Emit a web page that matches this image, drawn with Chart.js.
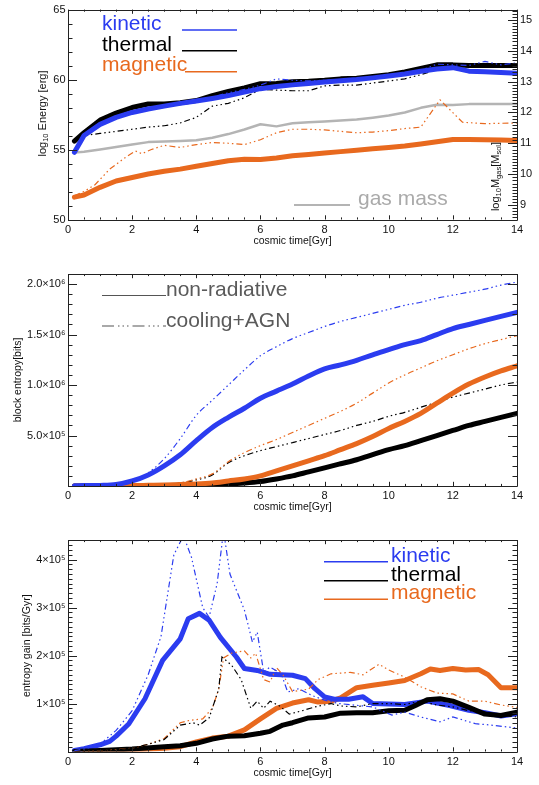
<!DOCTYPE html>
<html>
<head>
<meta charset="utf-8">
<script src="https://cdn.jsdelivr.net/npm/chart.js@4.4.1/dist/chart.umd.min.js"></script>
<style>
  html, body { margin: 0; padding: 0; background: #fff; }
  .panel { position: absolute; left: 0; width: 539px; }
</style>
</head>
<body>
<div class="panel" style="top:0;height:255px"><canvas id="energyChart"></canvas></div>
<div class="panel" style="top:255px;height:265px"><canvas id="entropyChart"></canvas></div>
<div class="panel" style="top:520px;height:265px"><canvas id="gainChart"></canvas></div>
<script>
// --- Shared axis data ---
const timeTicks = [0, 2, 4, 6, 8, 10, 12, 14];
const timeTitle = 'cosmic time[Gyr]';
const componentLabels = ['kinetic', 'thermal', 'magnetic'];
const runLabels = ['non-radiative', 'cooling+AGN'];
const massLabel = 'gas mass';

// --- Panel 1: log10 energy [erg] and log10 gas mass [Msol] ---
const energyTime = [0.2, 0.5, 1, 1.5, 2, 2.5, 3, 3.5, 4, 4.5, 5, 5.5, 6, 6.5, 7, 7.5, 8, 8.5, 9, 9.5, 10, 10.5, 11, 11.5, 12, 12.5, 13, 13.5, 14];
const kineticNR   = [54.8, 56.0, 56.8, 57.3, 57.65, 57.9, 58.1, 58.3, 58.47, 58.65, 58.85, 59.1, 59.35, 59.5, 59.62, 59.72, 59.82, 59.92, 60.0, 60.12, 60.25, 60.4, 60.6, 60.75, 60.85, 60.6, 60.55, 60.5, 60.45];
const kineticCool = [55.0, 55.9, 56.8, 57.3, 57.6, 57.9, 58.1, 58.3, 58.45, 58.75, 59.05, 59.3, 59.6, 60.05, 59.95, 59.9, 59.95, 60.0, 60.05, 60.1, 60.25, 60.45, 60.65, 61.1, 61.05, 61.0, 61.3, 61.05, 61.2];
const thermalNR   = [55.6, 56.2, 57.1, 57.6, 58.0, 58.25, 58.25, 58.35, 58.5, 58.85, 59.15, 59.4, 59.7, 59.72, 59.85, 59.88, 59.95, 60.05, 60.1, 60.22, 60.35, 60.55, 60.8, 61.05, 61.05, 61.0, 61.0, 61.0, 61.0];
const thermalCool = [55.6, 56.0, 56.15, 56.3, 56.45, 56.6, 56.7, 56.9, 57.3, 58.1, 58.3, 58.7, 59.3, 59.25, 59.2, 59.2, 59.55, 59.6, 59.6, 59.75, 59.9, 60.05, 60.35, 60.7, 60.85, 60.95, 61.05, 61.05, 61.1];
const magneticNR  = [51.6, 51.75, 52.3, 52.75, 53.0, 53.25, 53.45, 53.6, 53.8, 54.0, 54.2, 54.3, 54.28, 54.4, 54.55, 54.65, 54.75, 54.85, 54.95, 55.05, 55.15, 55.25, 55.4, 55.55, 55.72, 55.72, 55.7, 55.68, 55.65];
const magneticCoolTime = [0.2, 0.5, 0.85, 1.3, 1.8, 2.1, 2.3, 2.6, 3, 3.5, 4, 4.5, 5, 5.5, 6, 6.5, 7, 7.5, 8, 8.5, 9, 9.5, 10, 10.5, 11, 11.6, 12.3, 13, 14];
const magneticCool = [51.7, 52.0, 52.5, 53.6, 54.45, 54.9, 54.7, 55.0, 55.3, 55.15, 55.35, 55.5, 55.45, 55.35, 55.7, 56.2, 56.45, 56.45, 56.4, 56.3, 56.2, 56.25, 56.35, 56.5, 56.6, 58.55, 56.95, 56.85, 56.9];
const gasMass = [10.7, 10.73, 10.8, 10.88, 10.96, 11.04, 11.06, 11.08, 11.1, 11.18, 11.3, 11.45, 11.62, 11.55, 11.65, 11.68, 11.71, 11.74, 11.77, 11.83, 11.9, 12.0, 12.15, 12.25, 12.24, 12.27, 12.27, 12.27, 12.27];
const energyTicks = [50, 55, 60, 65];
const massTicks = [9, 10, 11, 12, 13, 14, 15];

// --- Panel 2: block entropy, in units of 1e6 bits ---
const entropyTime = [0.2, 0.5, 1, 1.5, 2, 2.5, 3, 3.5, 4, 4.5, 5, 5.5, 6, 6.5, 7, 7.5, 8, 8.5, 9, 9.5, 10, 10.5, 11, 11.5, 12, 12.5, 13, 13.5, 14];
const entKineticNR    = [0.003, 0.004, 0.006, 0.015, 0.05, 0.11, 0.2, 0.31, 0.45, 0.58, 0.68, 0.77, 0.87, 0.94, 1.01, 1.09, 1.16, 1.2, 1.245, 1.3, 1.35, 1.4, 1.44, 1.5, 1.56, 1.6, 1.64, 1.68, 1.72];
const entKineticCool  = [0.003, 0.004, 0.006, 0.012, 0.04, 0.13, 0.27, 0.47, 0.7, 0.85, 1.0, 1.15, 1.29, 1.38, 1.46, 1.52, 1.58, 1.63, 1.67, 1.71, 1.75, 1.79, 1.82, 1.86, 1.89, 1.92, 1.95, 1.99, 2.02];
const entMagneticNR   = [0, 0, 0.001, 0.002, 0.004, 0.007, 0.01, 0.015, 0.02, 0.03, 0.05, 0.07, 0.1, 0.15, 0.2, 0.25, 0.3, 0.36, 0.42, 0.49, 0.57, 0.64, 0.72, 0.82, 0.92, 1.01, 1.08, 1.14, 1.19];
const entMagneticCool = [0, 0, 0.001, 0.002, 0.004, 0.008, 0.015, 0.03, 0.07, 0.12, 0.24, 0.33, 0.4, 0.46, 0.53, 0.6, 0.67, 0.74, 0.82, 0.92, 1.02, 1.1, 1.17, 1.24, 1.3, 1.36, 1.41, 1.45, 1.49];
const entThermalNR    = [0, 0, 0, 0.001, 0.002, 0.003, 0.005, 0.007, 0.01, 0.015, 0.02, 0.03, 0.045, 0.07, 0.1, 0.14, 0.18, 0.22, 0.26, 0.31, 0.36, 0.4, 0.45, 0.5, 0.55, 0.6, 0.64, 0.68, 0.72];
const entThermalCool  = [0, 0, 0.001, 0.002, 0.004, 0.008, 0.015, 0.03, 0.06, 0.11, 0.23, 0.3, 0.35, 0.39, 0.43, 0.47, 0.51, 0.55, 0.6, 0.64, 0.69, 0.73, 0.78, 0.83, 0.88, 0.92, 0.96, 1.0, 1.03];
const entropyTicks = [0.5, 1.0, 1.5, 2.0];
const entropyTickLabels = ['5.0×10⁵', '1.0×10⁶', '1.5×10⁶', '2.0×10⁶'];

// --- Panel 3: entropy gain, in units of 1e5 bits/Gyr ---
const gainKineticNRTime = [0.2, 0.5, 1, 1.3, 1.5, 1.9, 2.4, 2.95, 3.5, 3.75, 4.1, 4.4, 4.75, 5.25, 5.5, 5.9, 6.3, 7, 7.4, 7.7, 8, 8.3, 8.75, 9.2, 9.5, 10, 10.5, 11.2, 11.9, 12.5, 13, 13.5, 14];
const gainKineticNR     = [0.02, 0.06, 0.14, 0.21, 0.32, 0.58, 1.1, 1.9, 2.35, 2.77, 2.88, 2.74, 2.38, 1.97, 1.73, 1.69, 1.61, 1.59, 1.52, 1.31, 1.14, 1.09, 1.09, 1.14, 1.0, 0.99, 0.98, 1.05, 0.96, 0.86, 0.81, 0.74, 0.79];
const gainKineticCoolTime = [0.2, 0.5, 1, 1.5, 2, 2.5, 2.9, 3.3, 3.6, 3.85, 4.2, 4.4, 4.65, 4.85, 5.05, 5.5, 5.75, 5.9, 6.1, 6.3, 6.65, 6.85, 7.2, 7.6, 8, 8.45, 9.5, 10.1, 10.5, 11, 11.6, 12, 12.7, 13.2, 14];
const gainKineticCool     = [0.02, 0.05, 0.15, 0.44, 0.85, 1.6, 2.4, 4.1, 4.5, 4.05, 3.0, 2.8, 3.5, 4.6, 3.7, 2.95, 2.28, 2.49, 1.66, 1.76, 1.62, 1.24, 1.31, 1.17, 1.07, 1.0, 0.93, 0.76, 0.82, 0.72, 0.62, 0.72, 0.58, 0.55, 0.49];
const gainThermalNRTime = [0.2, 1, 2, 3, 3.5, 4, 4.5, 5, 5.5, 6, 6.3, 6.7, 7, 7.5, 8, 8.5, 9, 9.5, 10, 10.5, 10.8, 11.2, 11.6, 12, 12.5, 13, 13.5, 14];
const gainThermalNR     = [0.0, 0.02, 0.05, 0.1, 0.12, 0.17, 0.26, 0.32, 0.33, 0.38, 0.42, 0.55, 0.6, 0.7, 0.72, 0.8, 0.81, 0.81, 0.85, 0.86, 0.95, 1.08, 1.1, 1.05, 0.92, 0.78, 0.75, 0.82];
const gainThermalCoolTime = [0.2, 1, 1.5, 2, 2.5, 3, 3.5, 3.9, 4.1, 4.4, 4.7, 4.8, 5.1, 5.4, 5.7, 5.9, 6.1, 6.3, 6.6, 6.9, 7.3, 7.7, 8.2, 8.5, 9, 9.5, 10, 10.5, 11, 11.5, 12, 12.5, 13, 13.5, 14];
const gainThermalCool     = [0, 0.01, 0.03, 0.07, 0.15, 0.25, 0.55, 0.6, 0.55, 0.7, 1.3, 1.97, 1.8, 1.5, 0.9, 1.05, 0.9, 1.05, 0.95, 0.78, 0.85, 0.93, 1.0, 0.95, 0.93, 1.0, 1.0, 0.98, 1.05, 0.97, 0.93, 0.85, 0.82, 0.75, 0.72];
const gainMagneticNRTime = [0.5, 1, 2, 3, 3.5, 4, 4.5, 5, 5.5, 6, 6.5, 7, 7.5, 7.8, 8.2, 8.5, 9, 9.5, 10, 10.5, 11, 11.3, 11.6, 12, 12.4, 12.8, 13.1, 13.5, 14];
const gainMagneticNR     = [0.0, 0.01, 0.03, 0.07, 0.1, 0.2, 0.28, 0.32, 0.45, 0.68, 0.9, 1.01, 1.08, 1.03, 1.05, 1.12, 1.33, 1.38, 1.43, 1.48, 1.62, 1.72, 1.69, 1.73, 1.7, 1.71, 1.6, 1.33, 1.33];
const gainMagneticCoolTime = [0.2, 1, 2, 2.5, 3, 3.5, 3.8, 4.2, 4.5, 4.7, 4.85, 5.1, 5.5, 5.7, 5.85, 6.1, 6.3, 6.5, 6.7, 7, 7.5, 7.8, 8.2, 8.8, 9.2, 9.7, 10, 10.5, 11, 11.5, 12, 12.5, 13, 13.5, 14];
const gainMagneticCool     = [0, 0.01, 0.07, 0.15, 0.27, 0.6, 0.65, 0.68, 0.9, 1.3, 1.95, 2.05, 2.1, 1.95, 2.05, 1.5, 1.45, 1.75, 1.6, 1.25, 1.3, 1.5, 1.62, 1.65, 1.6, 1.82, 1.7, 1.55, 1.35, 1.22, 1.2, 1.05, 1.05, 0.97, 0.92];
const gainTicks = [1, 2, 3, 4];
const gainTickLabels = ['1×10⁵', '2×10⁵', '3×10⁵', '4×10⁵'];

// --- Styling ---
const BLUE = '#2b3cf0';
const BLACK = '#000000';
const ORANGE = '#e8691e';
const GREY = '#b4b4b4';
const INK = '#111111';
const DASH = [6, 3, 1.5, 3, 1.5, 3, 1.5, 3];
const LEGEND_FONT = '21px "Liberation Sans", Arial, sans-serif';
const RIGHT_GAP = 22; // space between the plot frame and the page edge

Chart.defaults.font.family = '"Liberation Sans", Arial, Helvetica, sans-serif';
Chart.defaults.color = INK;

const pts = (xs, ys) => xs.map((x, i) => ({ x, y: ys[i] }));

function thick(data, color, width, axis) {
    return { data, borderColor: color, borderWidth: width, pointRadius: 0, tension: 0,
             borderJoinStyle: 'round', borderCapStyle: 'round', yAxisID: axis || 'y' };
}

function dotted(data, color, axis) {
    return { data, borderColor: color, borderWidth: 1.2, borderDash: DASH, pointRadius: 0,
             tension: 0, yAxisID: axis || 'y' };
}

// smooth curves for the cumulative entropy panel
const smooth = ds => Object.assign(ds, { cubicInterpolationMode: 'monotone' });

// --- Plugin: IDL style frame with inward ticks ---
const framePlugin = {
    id: 'frame',
    afterDatasetsDraw(chart, args, opts) {
        const { ctx, chartArea: a, scales } = chart;
        const snap = v => Math.round(v) + 0.5;
        ctx.save();
        ctx.strokeStyle = '#222';
        ctx.lineWidth = 1;
        ctx.beginPath();
        ctx.rect(snap(a.left), snap(a.top), Math.round(a.right - a.left), Math.round(a.bottom - a.top));
        (opts.marks || []).forEach(m => {
            const s = scales[m.scale];
            const n0 = Math.ceil(s.min / m.minor - 1e-6);
            const n1 = Math.floor(s.max / m.minor + 1e-6);
            for (let n = n0; n <= n1; n++) {
                const v = n * m.minor;
                const isMajor = Math.abs(v / m.major - Math.round(v / m.major)) < 1e-6;
                const len = isMajor ? m.len : m.len / 2;
                const p = snap(s.getPixelForValue(v));
                m.sides.forEach(side => {
                    if (side === 'bottom') { ctx.moveTo(p, a.bottom); ctx.lineTo(p, a.bottom - len); }
                    if (side === 'top') { ctx.moveTo(p, a.top); ctx.lineTo(p, a.top + len); }
                    if (side === 'left') { ctx.moveTo(a.left, p); ctx.lineTo(a.left + len, p); }
                    if (side === 'right') { ctx.moveTo(a.right, p); ctx.lineTo(a.right - len, p); }
                });
            }
        });
        ctx.stroke();
        ctx.restore();
    }
};

// --- Plugin: hand placed legends and titles with subscripts ---
const notesPlugin = {
    id: 'notes',
    afterDraw(chart, args, opts) {
        const ctx = chart.ctx;
        ctx.save();
        (opts.lines || []).forEach(l => {
            ctx.beginPath();
            ctx.strokeStyle = l.color;
            ctx.lineWidth = l.width || 1.5;
            ctx.setLineDash(l.dash || []);
            ctx.moveTo(l.x0, l.y);
            ctx.lineTo(l.x1, l.y);
            ctx.stroke();
        });
        ctx.setLineDash([]);
        (opts.texts || []).forEach(t => {
            ctx.font = t.font || LEGEND_FONT;
            ctx.fillStyle = t.color;
            ctx.textAlign = 'left';
            ctx.textBaseline = 'alphabetic';
            ctx.fillText(t.text, t.x, t.y);
        });
        (opts.rich || []).forEach(r => {
            ctx.save();
            ctx.translate(r.x, r.y);
            ctx.rotate(-Math.PI / 2);
            ctx.fillStyle = INK;
            ctx.textBaseline = 'middle';
            ctx.textAlign = 'left';
            const fontOf = sub => (sub ? '7.5px' : '11px') + ' "Liberation Sans", Arial, sans-serif';
            let total = 0;
            r.parts.forEach(([txt, sub]) => { ctx.font = fontOf(sub); total += ctx.measureText(txt).width; });
            let x = -total / 2;
            r.parts.forEach(([txt, sub]) => {
                ctx.font = fontOf(sub);
                ctx.fillText(txt, x, sub ? 3 : 0);
                x += ctx.measureText(txt).width;
            });
            ctx.restore();
        });
        ctx.restore();
    }
};

Chart.register(framePlugin, notesPlugin);

function timeAxis(height, titlePad) {
    return {
        type: 'linear', min: 0, max: 14,
        afterBuildTicks: s => { s.ticks = timeTicks.map(v => ({ value: v })); },
        afterFit: s => { s.height = height; },
        grid: { display: false, drawTicks: false },
        border: { display: false },
        ticks: { font: { size: 11 }, color: INK, padding: 3.4, maxRotation: 0, autoSkip: false },
        title: { display: true, text: timeTitle, font: { size: 10.5 }, color: INK, padding: { top: 0, bottom: titlePad } }
    };
}

function valueAxis(position, min, max, values, labels, width, title, titleCenter) {
    const axis = {
        type: 'linear', position, min, max,
        afterBuildTicks: s => { s.ticks = values.map(v => ({ value: v })); },
        afterFit: s => { s.width = width; },
        grid: { display: false, drawTicks: false },
        border: { display: false },
        ticks: {
            font: { size: 11 }, color: INK, padding: position === 'left' ? 2.5 : 3,
            autoSkip: false, callback: v => labels[values.indexOf(v)]
        },
        title: { display: false }
    };
    if (title) {
        axis.title = { display: true, text: title, font: { size: 10.5 }, color: INK, padding: { top: titleCenter - 6.3, bottom: 0 } };
    }
    return axis;
}

const common = {
    responsive: true,
    maintainAspectRatio: false,
    animation: false,
    events: [],
    plugins: { legend: { display: false }, tooltip: { enabled: false } }
};

// --- Panel 1 ---
new Chart(document.getElementById('energyChart'), {
    type: 'line',
    data: {
        datasets: [
            dotted(pts(energyTime, kineticCool), BLUE),
            thick(pts(energyTime, kineticNR), BLUE, 5),
            dotted(pts(energyTime, thermalCool), BLACK),
            thick(pts(energyTime, thermalNR), BLACK, 5),
            dotted(pts(magneticCoolTime, magneticCool), ORANGE),
            thick(pts(energyTime, magneticNR), ORANGE, 5),
            thick(pts(energyTime, gasMass), GREY, 2.5, 'y2')
        ]
    },
    options: {
        ...common,
        layout: { padding: { top: 7.5, right: 0, bottom: 0, left: 0 } },
        scales: {
            x: timeAxis(35.5, 7.7),
            y: valueAxis('left', 50, 65, energyTicks, energyTicks.map(String), 68),
            y2: valueAxis('right', 8.535, 15.33, massTicks, massTicks.map(String), RIGHT_GAP)
        },
        plugins: {
            ...common.plugins,
            frame: { marks: [
                { scale: 'x', major: 2, minor: 0.5, len: 4.2, sides: ['bottom', 'top'] },
                { scale: 'y', major: 5, minor: 1, len: 9, sides: ['left'] },
                { scale: 'y2', major: 1, minor: 0.1, len: 9, sides: ['right'] }
            ] },
            notes: {
                lines: [
                    { x0: 182, x1: 237, y: 30, color: BLUE },
                    { x0: 182, x1: 237, y: 50.7, color: BLACK },
                    { x0: 185, x1: 237, y: 71.7, color: ORANGE },
                    { x0: 294, x1: 350, y: 205, color: GREY, width: 2 }
                ],
                texts: [
                    { text: componentLabels[0], x: 102, y: 29.5, color: BLUE },
                    { text: componentLabels[1], x: 102, y: 50.5, color: BLACK },
                    { text: componentLabels[2], x: 102, y: 71, color: ORANGE },
                    { text: massLabel, x: 358, y: 205, color: '#aaaaaa' }
                ],
                rich: [
                    { x: 43, y: 113.5, parts: [['log', false], ['10', true], [' Energy [erg]', false]] },
                    { x: 496, y: 176.5, parts: [['log', false], ['10', true], ['M', false], ['gas', true], ['[M', false], ['sol', true], [']', false]] }
                ]
            }
        }
    }
});

// --- Panel 2 ---
new Chart(document.getElementById('entropyChart'), {
    type: 'line',
    data: {
        datasets: [
            smooth(dotted(pts(entropyTime, entKineticCool), BLUE)),
            smooth(thick(pts(entropyTime, entKineticNR), BLUE, 5)),
            smooth(dotted(pts(entropyTime, entMagneticCool), ORANGE)),
            smooth(thick(pts(entropyTime, entMagneticNR), ORANGE, 5)),
            smooth(dotted(pts(entropyTime, entThermalCool), BLACK)),
            smooth(thick(pts(entropyTime, entThermalNR), BLACK, 5))
        ]
    },
    options: {
        ...common,
        layout: { padding: { top: 19, right: RIGHT_GAP, bottom: 0, left: 0 } },
        scales: {
            x: timeAxis(34, 6.2),
            y: valueAxis('left', 0, 2.1, entropyTicks, entropyTickLabels, 68, 'block entropy[bits]', 17.7)
        },
        plugins: {
            ...common.plugins,
            frame: { marks: [
                { scale: 'x', major: 2, minor: 0.5, len: 4.2, sides: ['bottom', 'top'] },
                { scale: 'y', major: 0.5, minor: 0.1, len: 9, sides: ['left', 'right'] }
            ] },
            notes: {
                lines: [
                    { x0: 102, x1: 166, y: 40.5, color: '#555555', width: 1.2 },
                    { x0: 102, x1: 166, y: 71, color: '#555555', width: 1.2, dash: [12, 4, 1.5, 3, 1.5, 3, 1.5, 4] }
                ],
                texts: [
                    { text: runLabels[0], x: 166, y: 41, color: '#5a5a5a' },
                    { text: runLabels[1], x: 166, y: 71.5, color: '#5a5a5a' }
                ]
            }
        }
    }
});

// --- Panel 3 ---
new Chart(document.getElementById('gainChart'), {
    type: 'line',
    data: {
        datasets: [
            dotted(pts(gainKineticCoolTime, gainKineticCool), BLUE),
            dotted(pts(gainThermalCoolTime, gainThermalCool), BLACK),
            dotted(pts(gainMagneticCoolTime, gainMagneticCool), ORANGE),
            thick(pts(gainThermalNRTime, gainThermalNR), BLACK, 5),
            thick(pts(gainKineticNRTime, gainKineticNR), BLUE, 5),
            thick(pts(gainMagneticNRTime, gainMagneticNR), ORANGE, 5)
        ]
    },
    options: {
        ...common,
        layout: { padding: { top: 20, right: RIGHT_GAP, bottom: 0, left: 0 } },
        scales: {
            x: timeAxis(33.5, 5.7),
            y: valueAxis('left', 0, 4.41, gainTicks, gainTickLabels, 68, 'entropy gain [bits/Gyr]', 27.5)
        },
        plugins: {
            ...common.plugins,
            frame: { marks: [
                { scale: 'x', major: 2, minor: 0.5, len: 4.2, sides: ['bottom', 'top'] },
                { scale: 'y', major: 1, minor: 0.1, len: 9, sides: ['left', 'right'] }
            ] },
            notes: {
                lines: [
                    { x0: 324, x1: 388, y: 41.7, color: BLUE },
                    { x0: 324, x1: 388, y: 60.7, color: BLACK },
                    { x0: 324, x1: 388, y: 79.3, color: ORANGE }
                ],
                texts: [
                    { text: componentLabels[0], x: 391, y: 41.5, color: BLUE },
                    { text: componentLabels[1], x: 391, y: 60.5, color: BLACK },
                    { text: componentLabels[2], x: 391, y: 79, color: ORANGE }
                ]
            }
        }
    }
});
</script>
</body>
</html>
